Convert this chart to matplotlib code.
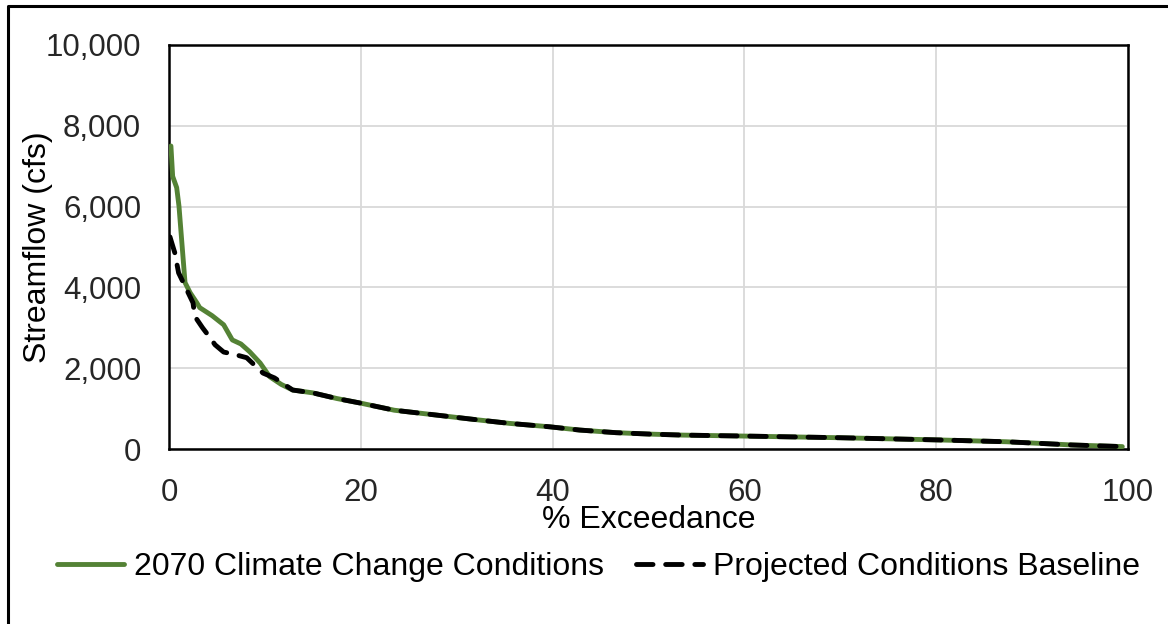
import matplotlib
matplotlib.use('Agg')
import matplotlib.pyplot as plt
from matplotlib.lines import Line2D
from matplotlib.ticker import FuncFormatter

plt.rcParams['font.family'] = ['Liberation Sans', 'DejaVu Sans']

# flow duration curves: % exceedance vs streamflow (cfs)
cc_pct = [0.2, 0.38, 0.8, 1.04, 1.67, 2.2, 2.9, 3.2, 4.5, 5.7, 6.6, 7.5, 8.4, 9.5, 10.5,
          11.7, 12.9, 15.0, 17.5, 19.9, 21.5, 23.5, 27.9, 31.7, 35.5, 39.7, 42.8, 46.6,
          50.1, 53.5, 60.2, 69.9, 80.3, 87.3, 90.8, 94.2, 99.4]
cc_flow = [7500, 6750, 6470, 6010, 4120, 3870, 3620, 3500, 3300, 3075, 2700, 2600, 2410,
           2130, 1790, 1600, 1460, 1390, 1250, 1140, 1060, 960, 840, 735, 635, 550, 470,
           405, 370, 345, 320, 280, 225, 180, 140, 100, 60]

base_pct = [0.1, 0.6, 1.0, 1.67, 2.5, 2.7, 3.5, 4.3, 4.8, 5.7, 6.7, 8.1, 9.8, 11.0, 12.9,
            15.0, 17.5, 19.9, 21.5, 23.5, 27.9, 31.7, 35.5, 39.7, 42.8, 46.6, 50.1, 53.5,
            60.2, 69.9, 80.3, 87.3, 90.8, 94.2, 99.4]
base_flow = [5250, 4860, 4360, 4030, 3620, 3280, 3000, 2750, 2580, 2400, 2350, 2260, 1880,
             1760, 1460, 1390, 1250, 1140, 1060, 960, 840, 735, 635, 550, 470, 405, 370,
             345, 320, 280, 225, 180, 140, 100, 60]

green = '#548235'

fig = plt.figure(figsize=(11.68, 6.24), dpi=100)
ax = fig.add_axes([0.1447, 0.2804, 0.8211, 0.6475])

ax.plot(cc_pct, cc_flow, color=green, linewidth=3.5, solid_capstyle='round',
        solid_joinstyle='round', label='2070 Climate Change Conditions', zorder=3)
ax.plot(base_pct, base_flow, color='black', linewidth=3.5, dashes=(3.4, 2.6),
        dash_capstyle='round', label='Projected Conditions Baseline', zorder=4)

ax.set_xlim(0, 100)
ax.set_ylim(0, 10000)
ax.set_xticks(range(0, 101, 20))
ax.set_yticks(range(0, 10001, 2000))
ax.yaxis.set_major_formatter(FuncFormatter(lambda v, p: f'{int(v):,}'))
ax.grid(True, color='#d9d9d9', linewidth=1.3)
ax.set_axisbelow(True)
ax.tick_params(axis='both', length=0, labelsize=22.5, colors='#262626')
ax.tick_params(axis='x', pad=21)
ax.tick_params(axis='y', pad=20)
for s in ax.spines.values():
    s.set_color('black')
    s.set_linewidth(1.8)

ax.set_xlabel('% Exceedance', fontsize=23, labelpad=-2)
ax.set_ylabel('Streamflow (cfs)', fontsize=23, labelpad=-5)

ax.legend(loc='center', bbox_to_anchor=(0.5124, 0.091), bbox_transform=fig.transFigure,
          ncol=2, frameon=False, fontsize=23, handlelength=2.1, handletextpad=0.3,
          columnspacing=1.0, borderaxespad=0)

# outer frame (left and top edges)
fig.add_artist(Line2D([8 / 1168, 8 / 1168, 1.0], [0.0, 1 - 6 / 624, 1 - 6 / 624],
                      transform=fig.transFigure, color='black', linewidth=2.2))

fig.savefig('out.png', dpi=100)
